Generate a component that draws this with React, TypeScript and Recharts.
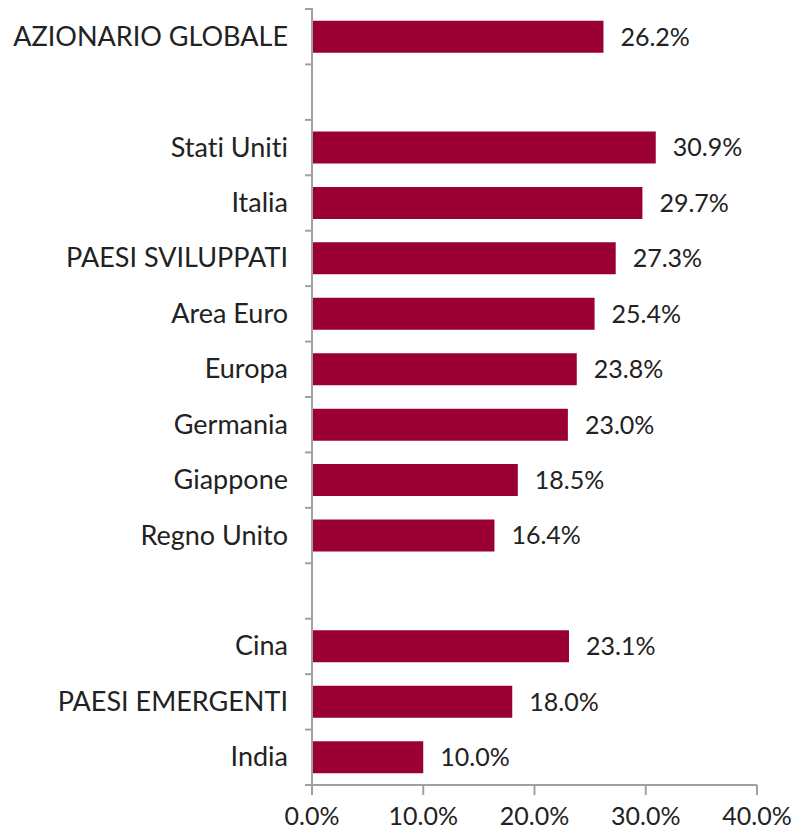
import React from 'react';
import { BarChart, Bar, XAxis, YAxis, LabelList } from 'recharts';

const categories = [
  'AZIONARIO GLOBALE',
  '',
  'Stati Uniti',
  'Italia',
  'PAESI SVILUPPATI',
  'Area Euro',
  'Europa',
  'Germania',
  'Giappone',
  'Regno Unito',
  ' ',
  'Cina',
  'PAESI EMERGENTI',
  'India',
];
const values: (number | null)[] = [26.2, null, 30.9, 29.7, 27.3, 25.4, 23.8, 23.0, 18.5, 16.4, null, 23.1, 18.0, 10.0];
const xTicks = [0, 10, 20, 30, 40];

const BAR_COLOR = '#9b0034';
const AXIS_COLOR = '#a0a0a0';
const TEXT_COLOR = '#222222';
const FONT = 'Lato, "Open Sans", sans-serif';

const W = 798;
const H = 831;
const TOP = 9;
const X_AXIS_H = 32;
const BOTTOM = 14;
const PLOT_H = H - TOP - BOTTOM - X_AXIS_H;
const BAND = PLOT_H / categories.length;

const data = categories.map((name, i) => ({ name, value: values[i] }));

// category labels plus the short ticks that sit between the categories
const CategoryTick = (props: any) => {
  const { x, y, payload, index } = props;
  const isLast = index === categories.length - 1;
  return (
    <g>
      <line x1={x + 1} x2={x + 9} y1={y - BAND / 2} y2={y - BAND / 2} stroke={AXIS_COLOR} strokeWidth={2} />
      {isLast && (
        <line x1={x + 1} x2={x + 9} y1={y + BAND / 2} y2={y + BAND / 2} stroke={AXIS_COLOR} strokeWidth={2} />
      )}
      <text x={x - 16} y={y} dy={9} textAnchor="end" fill={TEXT_COLOR} fontSize={27} fontFamily={FONT}>
        {payload.value}
      </text>
    </g>
  );
};

export default function App() {
  return (
    <div style={{ position: 'absolute', left: 0, top: 0, background: '#fff', fontVariantLigatures: 'none' }}>
      <BarChart
        width={W}
        height={H}
        data={data}
        layout="vertical"
        margin={{ top: TOP, right: 41, bottom: BOTTOM, left: 0 }}
        barCategoryGap="21%"
      >
        <XAxis
          type="number"
          domain={[0, 40]}
          ticks={xTicks}
          tickFormatter={(v: number) => `${v.toFixed(1)}%`}
          height={X_AXIS_H}
          stroke={AXIS_COLOR}
          strokeWidth={2}
          tickSize={10}
          tick={{ fill: TEXT_COLOR, fontSize: 25, fontFamily: FONT, dy: 10 }}
        />
        <YAxis
          type="category"
          dataKey="name"
          width={312}
          stroke={AXIS_COLOR}
          strokeWidth={2}
          tickLine={false}
          tick={<CategoryTick />}
          interval={0}
        />
        <Bar dataKey="value" fill={BAR_COLOR} isAnimationActive={false}>
          <LabelList
            dataKey="value"
            position="right"
            offset={17}
            fill={TEXT_COLOR}
            fontSize={25}
            fontFamily={FONT}
            formatter={(v: any) => (v == null ? '' : `${Number(v).toFixed(1)}%`)}
          />
        </Bar>
      </BarChart>
    </div>
  );
}
